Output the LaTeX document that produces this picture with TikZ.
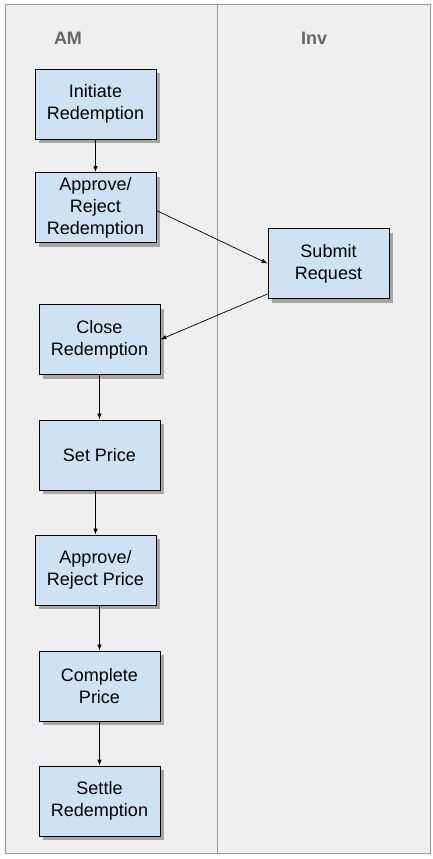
\documentclass[tikz,border=0pt]{standalone}
\usepackage{fontspec}
\setmainfont{Liberation Sans}
\usepackage{tikz}
\usetikzlibrary{arrows.meta,shadows}
\definecolor{LaneBg}{HTML}{EFEFEF}
\definecolor{LaneLine}{HTML}{9A9A9A}
\definecolor{LaneText}{HTML}{666666}
\definecolor{TaskFill}{HTML}{CFE2F3}

\begin{document}
\begin{tikzpicture}[x=1pt, y=-1pt, >={Latex[length=6pt,width=4.5pt]},
    task/.style={draw=black, line width=0.9pt, fill=TaskFill, minimum width=121pt, minimum height=70pt,
      align=center, inner sep=2pt, font=\fontsize{18}{22}\selectfont,
      drop shadow={shadow xshift=4pt, shadow yshift=-4pt, fill=black, opacity=0.3}},
    lane/.style={font=\bfseries\fontsize{18}{20}\selectfont, text=LaneText},
    flow/.style={->, line width=0.7pt}]
    \useasboundingbox (0,0) rectangle (433,859);
    % swimlanes
    \draw[LaneLine, fill=LaneBg, line width=1pt] (5,5) rectangle (430,853);
    \draw[LaneLine, line width=1pt] (217,5) -- (217,853);
    \node[lane] (am) at (68,38) {AM};
    \node[lane] (inv) at (314,38) {Inv};
    % tasks
    \node[task] (init) at (95.5,104) {Initiate\\Redemption};
    \node[task] (appr) at (95.5,207.5) {Approve/\\Reject\\Redemption};
    \node[task] (subm) at (328.5,263.5) {Submit\\Request};
    \node[task] (close) at (99.5,339.5) {Close\\Redemption};
    \node[task] (price) at (99.5,455) {Set Price};
    \node[task] (apprp) at (95.5,570) {Approve/\\Reject Price};
    \node[task] (compl) at (99.5,686) {Complete\\Price};
    \node[task] (settle) at (99.5,801) {Settle\\Redemption};
    % flows
    \draw[flow] (init.south) -- (appr.north);
    \draw[flow] ([yshift=-3pt]appr.east) -- (subm.west);
    \draw[flow] ([yshift=5pt]subm.south west) -- (close.east);
    \foreach \a/\b in {close/price,price/apprp,apprp/compl,compl/settle} {
      \draw[flow] (\a.south -| \b.north) -- (\b.north);
    }
  \end{tikzpicture}
\end{document}
